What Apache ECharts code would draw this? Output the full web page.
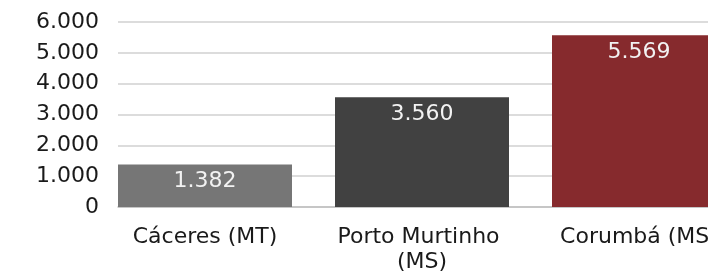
<!DOCTYPE html>
<html>
<head>
<meta charset="utf-8">
<script src="https://cdn.jsdelivr.net/npm/echarts@6/dist/echarts.min.js"></script>
<style>
  html, body { margin: 0; padding: 0; background: #fff; }
  #chart { width: 708px; height: 274px; }
</style>
</head>
<body>
<div id="chart"></div>
<script>
var categories = ['Cáceres (MT)', 'Porto Murtinho (MS)', 'Corumbá (MS)'];
var values = [1382, 3560, 5569];
var barColors = ['#767676', '#414141', '#862a2d'];
var yTicks = { min: 0, max: 6000, interval: 1000 };

var font = '"DejaVu Sans", sans-serif';

function fmt(v) {
  return String(v).replace(/\B(?=(\d{3})+(?!\d))/g, '.');
}

var myChart = echarts.init(document.getElementById('chart'));

var option = {
  animation: false,
  grid: [
    // gridlines + y labels start at the axis
    { left: 118, top: 22, bottom: 67, width: 630, outerBoundsMode: 'none', containLabel: false },
    // bars sit in this one, shifted left by half a gap
    { left: 96.5, top: 22, bottom: 67, width: 651, outerBoundsMode: 'none', containLabel: false }
  ],
  xAxis: [
    {
      gridIndex: 0,
      type: 'category',
      data: categories,
      axisLine: { show: true, lineStyle: { color: '#bfbfbf', width: 1.5 } },
      axisTick: { show: false },
      axisLabel: { show: false }
    },
    {
      gridIndex: 1,
      type: 'category',
      data: categories,
      axisLine: { show: false },
      axisTick: { show: false },
      axisLabel: {
        color: '#1a1a1a',
        fontFamily: font,
        fontSize: 22,
        margin: 18,
        lineHeight: 25,
        width: 200,
        overflow: 'break',
        interval: 0
      }
    }
  ],
  yAxis: [
    {
      gridIndex: 0,
      type: 'value',
      min: yTicks.min,
      max: yTicks.max,
      interval: yTicks.interval,
      axisLine: { show: false },
      axisTick: { show: false },
      axisLabel: {
        color: '#1a1a1a',
        fontFamily: font,
        fontSize: 22,
        margin: 19,
        formatter: fmt
      },
      splitLine: { lineStyle: { color: '#d0d0d0', width: 1.5 } }
    },
    {
      gridIndex: 1,
      type: 'value',
      min: yTicks.min,
      max: yTicks.max,
      show: false,
      splitLine: { show: false }
    }
  ],
  series: [
    {
      type: 'bar',
      xAxisIndex: 1,
      yAxisIndex: 1,
      barWidth: 174,
      data: values.map(function (v, i) {
        return { value: v, itemStyle: { color: barColors[i] } };
      }),
      label: {
        show: true,
        position: 'insideTop',
        distance: 6,
        color: '#f2f2f2',
        fontFamily: font,
        fontSize: 22,
        formatter: function (p) { return fmt(p.value); }
      }
    }
  ]
};

myChart.setOption(option);
</script>
</body>
</html>
